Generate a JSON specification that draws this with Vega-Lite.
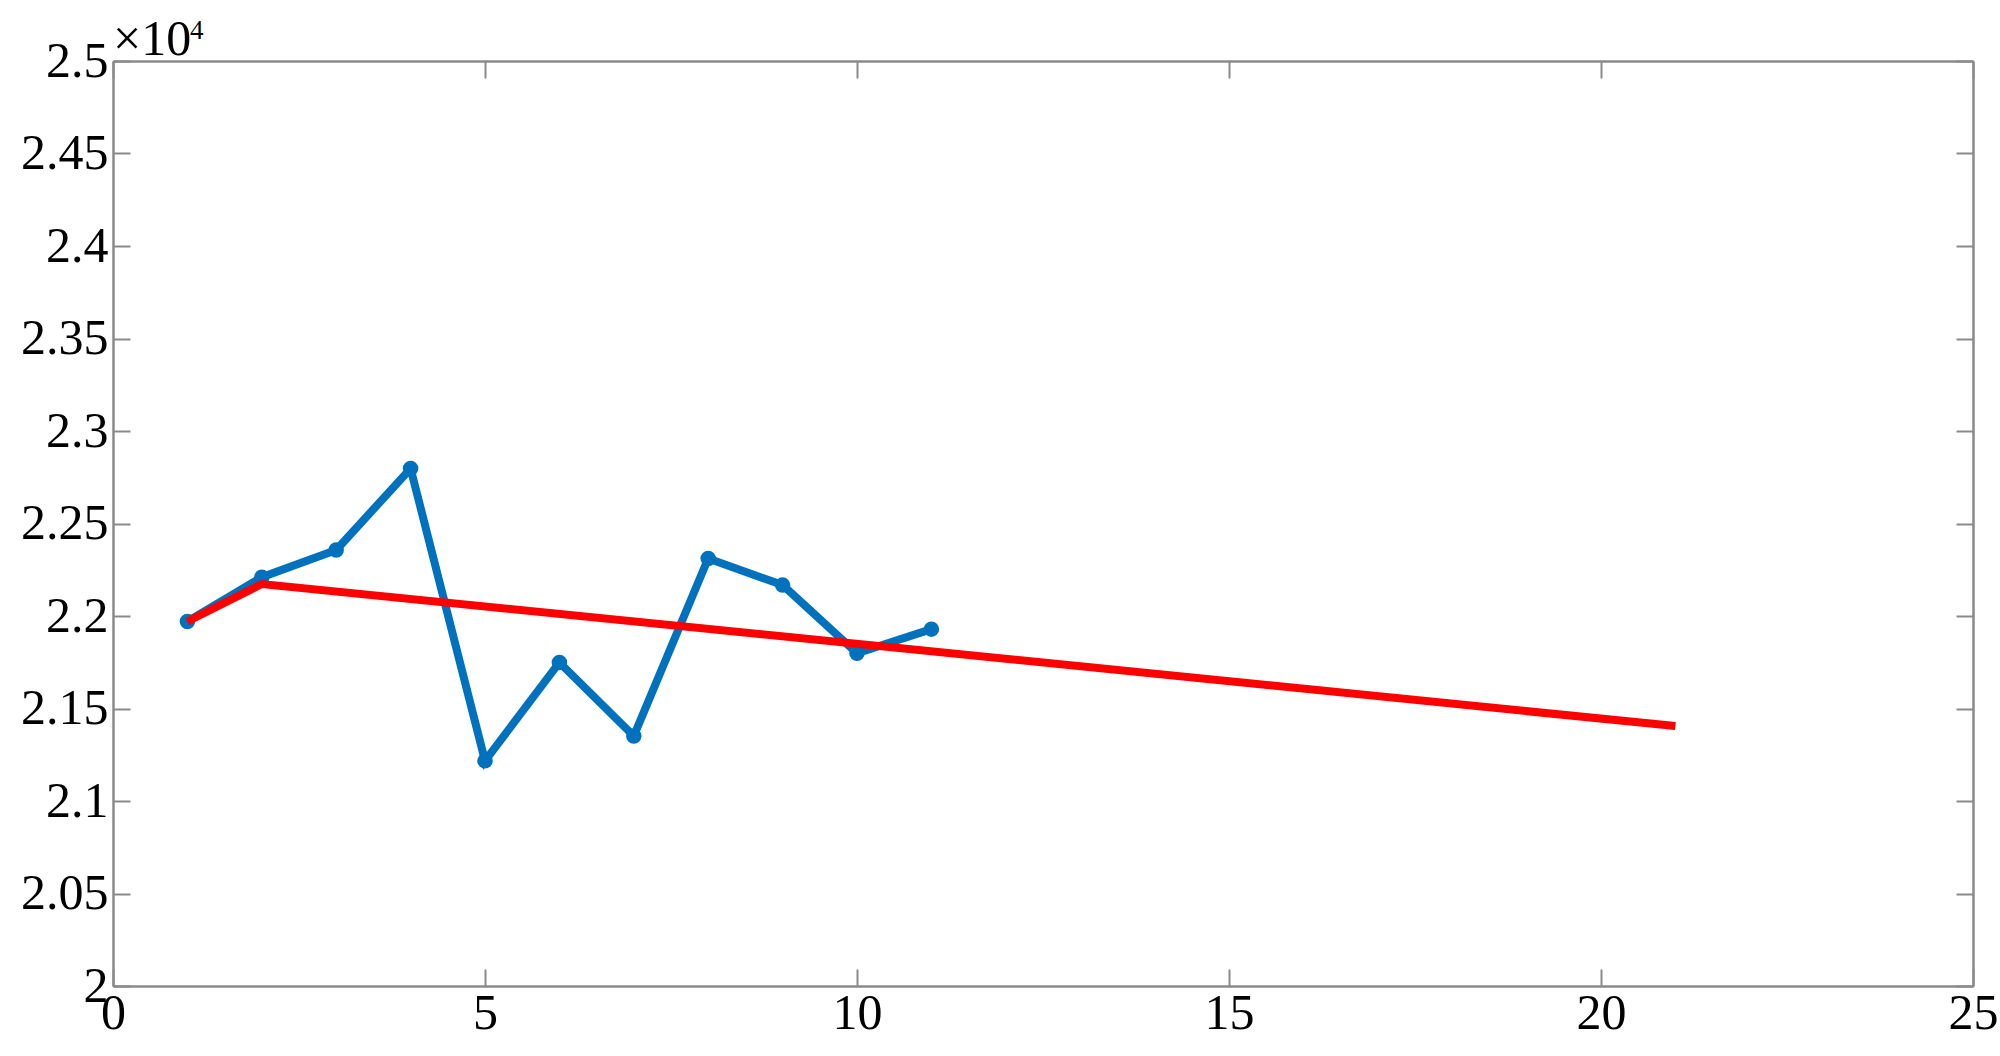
{
  "$schema": "https://vega.github.io/schema/vega-lite/v6.json",
  "width": 1860,
  "height": 925,
  "autosize": {"type": "none"},
  "padding": {"left": 113, "top": 61, "right": 27, "bottom": 70},
  "background": "white",
  "config": {
    "view": {"stroke": null},
    "font": "Liberation Serif",
    "axis": {
      "labelFont": "Liberation Serif",
      "labelFontSize": 50,
      "labelColor": "black",
      "tickSize": -17,
      "tickWidth": 2,
      "tickColor": "#8a8a8a",
      "domainColor": "#8a8a8a",
      "domainWidth": 2.5,
      "grid": false,
      "labelFlush": false,
      "labelOverlap": false,
      "labelBound": false
    }
  },
  "datasets": {
    "blue": [
      {"x": 1, "y": 21970},
      {"x": 2, "y": 22210},
      {"x": 3, "y": 22357},
      {"x": 4, "y": 22797},
      {"x": 5, "y": 21217},
      {"x": 6, "y": 21749},
      {"x": 7, "y": 21351},
      {"x": 8, "y": 22311},
      {"x": 9, "y": 22167},
      {"x": 10, "y": 21799},
      {"x": 11, "y": 21929}
    ],
    "red": [
      {"x": 1, "y": 21970},
      {"x": 2, "y": 22173},
      {"x": 21, "y": 21405}
    ],
    "label": [
      {"x": 0, "y": 25000, "base": "×10", "exp": "4"}
    ]
  },
  "layer": [
    {
      "data": {"name": "blue"},
      "mark": {
        "type": "line",
        "color": "#0072BD",
        "strokeWidth": 8,
        "point": {"filled": true, "size": 240, "color": "#0072BD"}
      },
      "encoding": {
        "x": {
          "field": "x", "type": "quantitative",
          "scale": {"domain": [0, 25], "nice": false, "zero": false},
          "axis": {
            "orient": "bottom",
            "values": [0, 5, 10, 15, 20, 25],
            "format": "d",
            "labelPadding": 19,
            "title": null
          }
        },
        "y": {
          "field": "y", "type": "quantitative",
          "scale": {"domain": [20000, 25000], "nice": false, "zero": false},
          "axis": {
            "orient": "left",
            "values": [20000, 20500, 21000, 21500, 22000, 22500, 23000, 23500, 24000, 24500, 25000],
            "labelExpr": "datum.value / 10000 + ''",
            "labelPadding": 22,
            "title": null
          }
        }
      }
    },
    {
      "data": {"name": "red"},
      "mark": {"type": "line", "color": "#FF0000", "strokeWidth": 8},
      "encoding": {
        "x": {
          "field": "x", "type": "quantitative",
          "scale": {"domain": [0, 25], "nice": false, "zero": false},
          "axis": {
            "orient": "top",
            "values": [0, 5, 10, 15, 20, 25],
            "labels": false,
            "title": null
          }
        },
        "y": {
          "field": "y", "type": "quantitative",
          "scale": {"domain": [20000, 25000], "nice": false, "zero": false},
          "axis": {
            "orient": "right",
            "values": [20000, 20500, 21000, 21500, 22000, 22500, 23000, 23500, 24000, 24500, 25000],
            "labels": false,
            "title": null
          }
        }
      }
    },
    {
      "data": {"name": "label"},
      "mark": {"type": "text", "font": "Liberation Serif", "fontSize": 50, "align": "left", "baseline": "alphabetic", "dx": 0, "dy": -6, "color": "black", "clip": false},
      "encoding": {
        "x": {"field": "x", "type": "quantitative", "axis": null},
        "y": {"field": "y", "type": "quantitative", "axis": null},
        "text": {"field": "base"}
      }
    },
    {
      "data": {"name": "label"},
      "mark": {"type": "text", "font": "Liberation Serif", "fontSize": 27, "align": "left", "baseline": "alphabetic", "dx": 77, "dy": -22, "color": "black", "clip": false},
      "encoding": {
        "x": {"field": "x", "type": "quantitative", "axis": null},
        "y": {"field": "y", "type": "quantitative", "axis": null},
        "text": {"field": "exp"}
      }
    }
  ],
  "resolve": {"axis": {"x": "independent", "y": "independent"}}
}
